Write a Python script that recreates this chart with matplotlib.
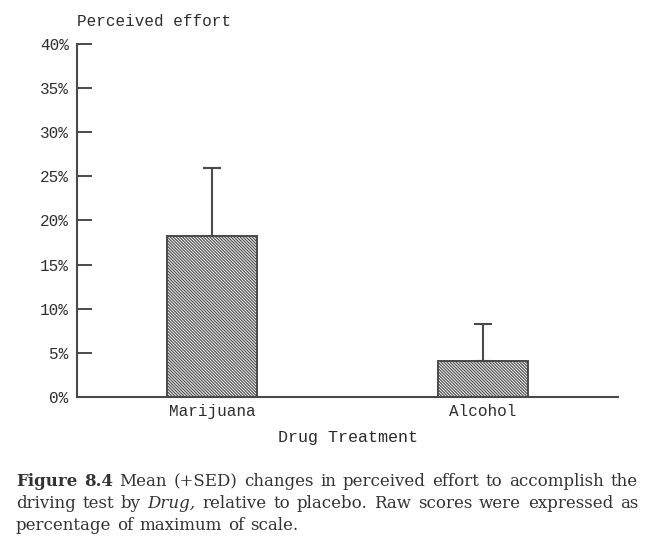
import matplotlib
matplotlib.use('Agg')
import matplotlib.pyplot as plt
from matplotlib.ticker import FuncFormatter

drugs = ['Marijuana', 'Alcohol']
effort_change = [18.2, 4.1]
sed = [7.7, 4.2]
yticks = [0, 5, 10, 15, 20, 25, 30, 35, 40]

caption_lines = [
    [('Figure', 'bold'), ('8.4', 'bold'), ('Mean', 'normal'), ('(+SED)', 'normal'),
     ('changes', 'normal'), ('in', 'normal'), ('perceived', 'normal'), ('effort', 'normal'),
     ('to', 'normal'), ('accomplish', 'normal'), ('the', 'normal')],
    [('driving', 'normal'), ('test', 'normal'), ('by', 'normal'), ('Drug,', 'italic'),
     ('relative', 'normal'), ('to', 'normal'), ('placebo.', 'normal'), ('Raw', 'normal'),
     ('scores', 'normal'), ('were', 'normal'), ('expressed', 'normal'), ('as', 'normal')],
    [('percentage', 'normal'), ('of', 'normal'), ('maximum', 'normal'), ('of', 'normal'),
     ('scale.', 'normal')],
]

ink = '#4a4a4a'
mono = 'Liberation Mono'
plt.rcParams['hatch.linewidth'] = 0.85
plt.rcParams['hatch.color'] = '#2e2e2e'

fig = plt.figure(figsize=(6.6, 5.56), dpi=100)
ax = fig.add_axes([77 / 660, 1 - 397 / 556, (618 - 77) / 660, (397 - 44) / 556])

x = list(range(len(drugs)))
ax.bar(x, effort_change, width=0.333, color='white', edgecolor=ink,
       linewidth=1.4, hatch='\\' * 11, zorder=2)
ax.errorbar(x, effort_change, yerr=[[0] * len(sed), sed], fmt='none',
            ecolor=ink, elinewidth=1.5, capsize=6.5, capthick=1.5, zorder=3)

ax.set_xlim(-0.5, 1.5)
ax.set_ylim(0, 40)
ax.set_yticks(yticks)
ax.yaxis.set_major_formatter(FuncFormatter(lambda v, p: f'{v:.0f}%'))
ax.tick_params(axis='y', direction='in', length=11, width=1.4, color=ink,
               labelsize=11.5, labelcolor='#2e2e2e', pad=6)
ax.set_xticks(x)
ax.set_xticklabels(drugs)
ax.tick_params(axis='x', length=0, labelsize=11.5, labelcolor='#2e2e2e', pad=5)
for lab in ax.get_xticklabels() + ax.get_yticklabels():
    lab.set_family(mono)

for side in ['top', 'right']:
    ax.spines[side].set_visible(False)
for side in ['left', 'bottom']:
    ax.spines[side].set_color(ink)
    ax.spines[side].set_linewidth(1.5)

ax.set_xlabel('Drug Treatment', family=mono, fontsize=12, color='#2a2a2a',
              labelpad=8)
fig.text(77 / 660, 1 - 22 / 556, 'Perceived effort', family=mono, fontsize=11.5,
         color='#2e2e2e', ha='left', va='center')

# justified caption, word by word
renderer = fig.canvas.get_renderer()
left_px, right_px = 16, 638
line_y = [482, 503, 525]
for li, words in enumerate(caption_lines):
    texts = []
    for w, style in words:
        t = fig.text(0, 1 - line_y[li] / 556, w, family='DejaVu Serif', fontsize=12,
                     color='#333333', va='center', ha='left',
                     fontweight='bold' if style == 'bold' else 'normal',
                     fontstyle='italic' if style == 'italic' else 'normal')
        texts.append(t)
    widths = [t.get_window_extent(renderer).width for t in texts]
    if li < len(caption_lines) - 1:
        gap = (right_px - left_px - sum(widths)) / (len(texts) - 1)
    else:
        gap = 6
    pos = left_px
    for t, wd in zip(texts, widths):
        t.set_x(pos / 660)
        pos += wd + gap

fig.savefig('out.png', dpi=100, facecolor='white')
